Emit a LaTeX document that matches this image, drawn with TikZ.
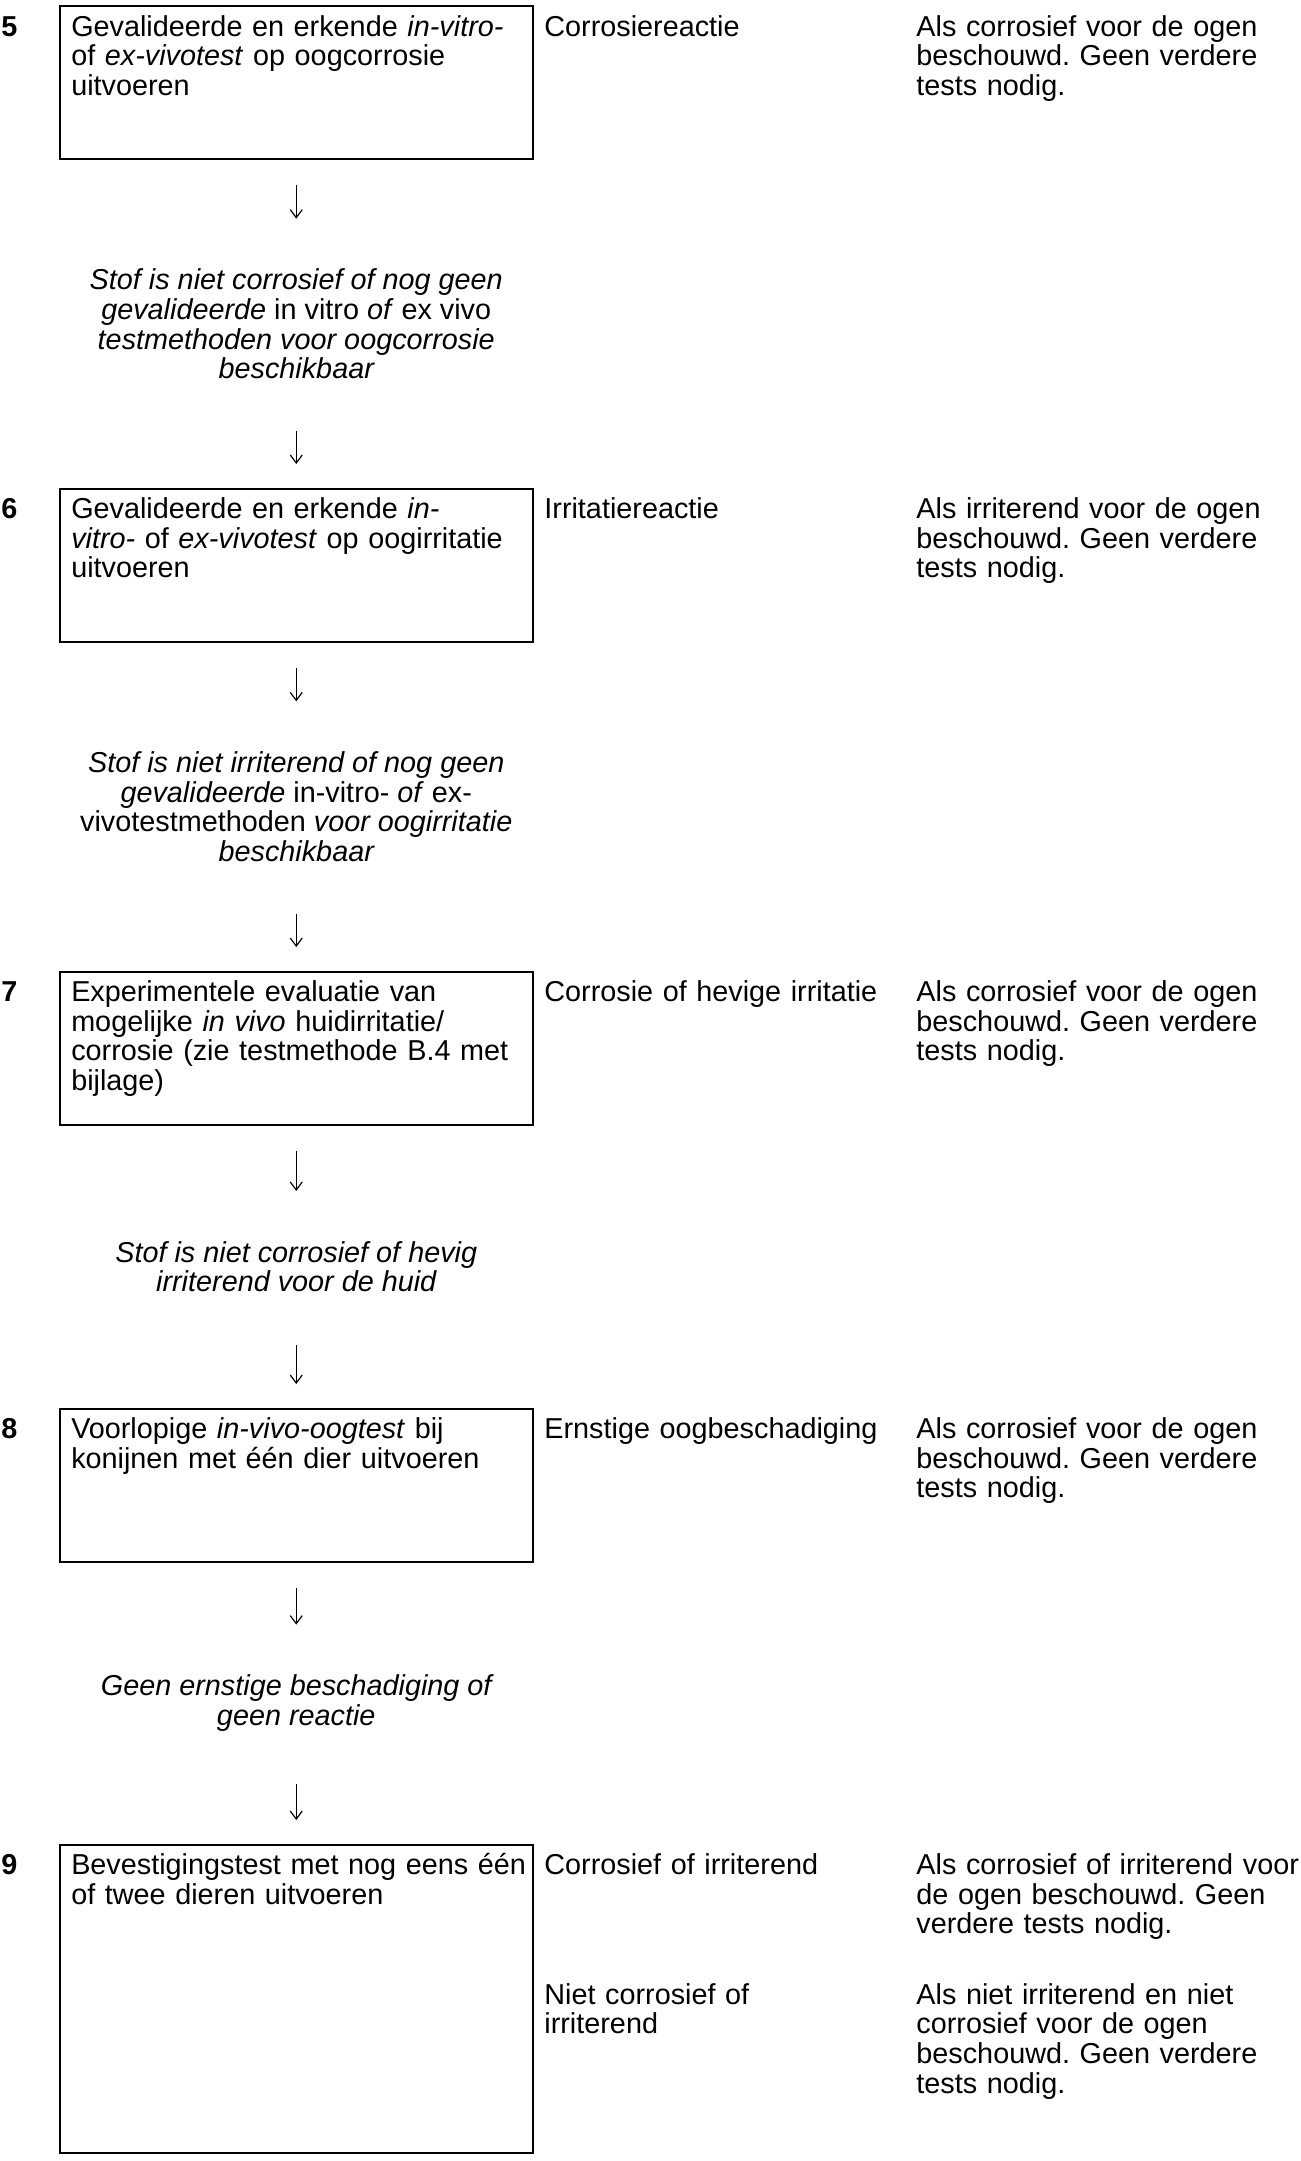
\documentclass[tikz,border=0pt]{standalone}
\usepackage{fontspec}
\setmainfont{Liberation Sans}
\usetikzlibrary{arrows.meta,positioning,calc}
\newcommand{\flowfont}{\fontsize{14.4pt}{14.8pt}\selectfont\frenchspacing}

\begin{document}
\begin{tikzpicture}[
    x=0.5pt,
    y=-0.5pt,
    >={Straight Barb[length=4pt,width=6pt]},
    font=\flowfont,
    stepbox/.style={
        draw,
        line width=0.75pt,
        anchor=north west,
        align=left,
        text width=225pt,
        inner xsep=5.75pt,
        inner ysep=3pt,
        text height=12pt,
        text depth=58.5pt
    },
    tallbox/.style={stepbox, text depth=136pt},
    stepnum/.style={anchor=base west, inner sep=0pt, font=\flowfont\bfseries},
    outcome/.style={anchor=base west, inner sep=0pt, align=left, text width=180pt},
    verdict/.style={outcome, text width=192pt},
    note/.style={align=center, inner sep=0pt, font=\flowfont\itshape},
    flow/.style={->, line width=0.6pt},
    fromstep/.style={flow, shorten <=12.5pt, shorten >=25pt},
    tostep/.style={flow, shorten <=26pt, shorten >=12pt}
]

% steps
\node[stepbox] (s5) at (59,5.5) {
    Gevalideerde en erkende \textit{in-vitro-}\\
    of \textit{ex-vivotest} op oogcorrosie\\
    uitvoeren
};
\node[stepbox] (s6) at (59,488) {
    Gevalideerde en erkende \textit{in-}\\
    \textit{vitro-} of \textit{ex-vivotest} op oogirritatie\\
    uitvoeren
};
\node[stepbox] (s7) at (59,971) {
    Experimentele evaluatie van\\
    mogelijke \textit{in vivo} huidirritatie/\\
    corrosie (zie testmethode B.4 met\\
    bijlage)
};
\node[stepbox] (s8) at (59,1408) {
    Voorlopige \textit{in-vivo-oogtest} bij\\
    konijnen met één dier uitvoeren
};
\node[tallbox] (s9) at (59,1844) {
    \mbox{Bevestigingstest met nog eens één}\\
    of twee dieren uitvoeren
};

% step numbers
\node[stepnum] (n5) at (1,0 |- s5.text) {5};
\node[stepnum] (n6) at (1,0 |- s6.text) {6};
\node[stepnum] (n7) at (1,0 |- s7.text) {7};
\node[stepnum] (n8) at (1,0 |- s8.text) {8};
\node[stepnum] (n9) at (1,0 |- s9.text) {9};

% outcomes and verdicts
\node[outcome] (o5) at (544,0 |- s5.text) {Corrosiereactie};
\node[verdict] (v5) at (916,0 |- s5.text) {
    Als corrosief voor de ogen\\
    beschouwd. Geen verdere\\
    tests nodig.
};
\node[outcome] (o6) at (544,0 |- s6.text) {Irritatiereactie};
\node[verdict] (v6) at (916,0 |- s6.text) {
    Als irriterend voor de ogen\\
    beschouwd. Geen verdere\\
    tests nodig.
};
\node[outcome] (o7) at (544,0 |- s7.text) {Corrosie of hevige irritatie};
\node[verdict] (v7) at (916,0 |- s7.text) {
    Als corrosief voor de ogen\\
    beschouwd. Geen verdere\\
    tests nodig.
};
\node[outcome] (o8) at (544,0 |- s8.text) {Ernstige oogbeschadiging};
\node[verdict] (v8) at (916,0 |- s8.text) {
    Als corrosief voor de ogen\\
    beschouwd. Geen verdere\\
    tests nodig.
};
\node[outcome] (o9) at (544,0 |- s9.text) {Corrosief of irriterend};
\node[verdict] (v9) at (916,0 |- s9.text) {
    Als corrosief of irriterend voor\\
    de ogen beschouwd. Geen\\
    verdere tests nodig.
};
\node[outcome] (o9b) at ($(o9.base west)+(0,129.5)$) {
    Niet corrosief of\\
    irriterend
};
\node[verdict] (v9b) at (916,0 |- o9b.base west) {
    Als niet irriterend en niet\\
    corrosief voor de ogen\\
    beschouwd. Geen verdere\\
    tests nodig.
};

% conditions between steps
\node[note] (c5) at ($(s5.south)!0.5!(s6.north)$) {
    Stof is niet corrosief of nog geen\\
    gevalideerde \textup{in vitro} of \textup{ex vivo}\\
    testmethoden voor oogcorrosie\\
    beschikbaar
};
\node[note] (c6) at ($(s6.south)!0.5!(s7.north)$) {
    Stof is niet irriterend of nog geen\\
    gevalideerde \textup{in-vitro-} of \textup{ex-}\\
    \textup{vivotestmethoden} voor oogirritatie\\
    beschikbaar
};
\node[note] (c7) at ($(s7.south)!0.5!(s8.north)$) {
    Stof is niet corrosief of hevig\\
    irriterend voor de huid
};
\node[note] (c8) at ($(s8.south)!0.5!(s9.north)$) {
    Geen ernstige beschadiging of\\
    geen reactie
};

% arrows
\draw[fromstep] (s5.south) -- (c5.north);
\draw[tostep] (c5.south) -- (s6.north);
\draw[fromstep] (s6.south) -- (c6.north);
\draw[tostep] (c6.south) -- (s7.north);
\draw[fromstep] (s7.south) -- (c7.north);
\draw[tostep] (c7.south) -- (s8.north);
\draw[fromstep] (s8.south) -- (c8.north);
\draw[tostep] (c8.south) -- (s9.north);

\useasboundingbox (0,0) rectangle (1299,2161);
\end{tikzpicture}
\end{document}
